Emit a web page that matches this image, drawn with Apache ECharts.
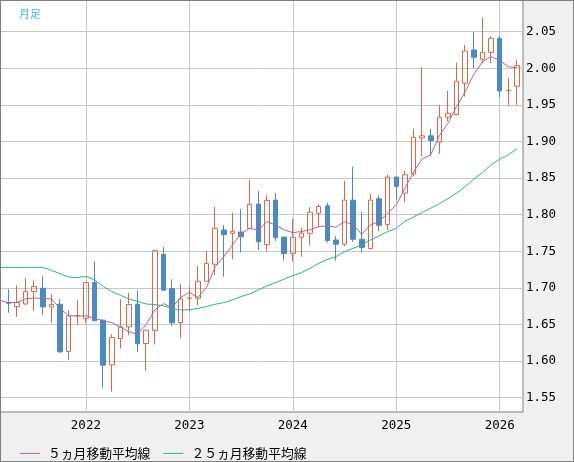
<!DOCTYPE html>
<html><head><meta charset="utf-8">
<script src="https://cdn.jsdelivr.net/npm/echarts@6/dist/echarts.min.js"></script>
<style>html,body{margin:0;padding:0;background:#f0f0f0}#c{width:574px;height:462px}</style>
</head><body><div id="c"></div>
<script>
// Monthly candles, Apr 2021 - Mar 2026
const months = [
 '2021-04','2021-05','2021-06','2021-07','2021-08','2021-09','2021-10','2021-11','2021-12',
 '2022-01','2022-02','2022-03','2022-04','2022-05','2022-06','2022-07','2022-08','2022-09','2022-10','2022-11','2022-12',
 '2023-01','2023-02','2023-03','2023-04','2023-05','2023-06','2023-07','2023-08','2023-09','2023-10','2023-11','2023-12',
 '2024-01','2024-02','2024-03','2024-04','2024-05','2024-06','2024-07','2024-08','2024-09','2024-10','2024-11','2024-12',
 '2025-01','2025-02','2025-03','2025-04','2025-05','2025-06','2025-07','2025-08','2025-09','2025-10','2025-11','2025-12',
 '2026-01','2026-02','2026-03'];
const open = [
 1.6800,1.6745,1.6782,1.6950,1.6995,1.6741,1.6777,1.6132,1.6618,
 1.6586,1.7073,1.6559,1.5950,1.6309,1.6468,1.6777,1.6241,1.6418,1.7455,1.6991,1.6527,
 1.6858,1.6859,1.7091,1.7323,1.7791,1.7745,1.7764,1.7814,1.8145,1.7591,1.8200,1.7695,
 1.7473,1.7692,1.7747,1.8021,1.8121,1.7655,1.7596,1.8199,1.7664,1.7537,1.8217,1.7865,
 1.8514,1.8295,1.8559,1.9050,1.9077,1.8991,1.9332,1.9368,1.9795,2.0250,2.0123,2.0218,
 2.0409,1.9693,1.9755];
const close = [
 1.6790,1.6800,1.6950,1.7018,1.6741,1.6773,1.6127,1.6618,1.6623,
 1.7073,1.6550,1.5945,1.6323,1.6468,1.6773,1.6236,1.6423,1.7509,1.6968,1.6523,1.6850,
 1.6862,1.7091,1.7336,1.7814,1.7727,1.7773,1.7700,1.8141,1.7632,1.8195,1.7686,1.7468,
 1.7692,1.7747,1.8034,1.8112,1.7646,1.7596,1.8199,1.7664,1.7550,1.8199,1.7856,1.8514,
 1.8386,1.8545,1.9059,1.9077,1.9014,1.9332,1.9386,1.9823,2.0236,2.0150,2.0218,2.0409,
 1.9691,1.9697,2.0036];
const low = [
 1.6660,1.6605,1.6764,1.6686,1.6632,1.6523,1.6114,1.6018,1.6495,
 1.6514,1.6550,1.5636,1.5582,1.6173,1.6355,1.6127,1.5868,1.6227,1.6968,1.6482,1.6318,
 1.6680,1.6759,1.7090,1.7177,1.7155,1.7391,1.7486,1.7814,1.7518,1.7505,1.7641,1.7373,
 1.7358,1.7427,1.7578,1.7829,1.7619,1.7372,1.7573,1.7628,1.7486,1.7527,1.7776,1.7792,
 1.8200,1.8170,1.8523,1.8800,1.8800,1.8830,1.9273,1.9359,1.9614,2.0000,2.0068,2.0068,
 1.9605,1.9495,1.9500];
const high = [
 1.6980,1.7036,1.7132,1.7100,1.7159,1.6914,1.6845,1.6695,1.6832,
 1.7080,1.7364,1.6570,1.6368,1.6845,1.6932,1.6968,1.6425,1.7523,1.7559,1.7118,1.7050,
 1.7020,1.7300,1.7505,1.8109,1.7859,1.8027,1.8077,1.8473,1.8323,1.8268,1.8295,1.7695,
 1.7943,1.7824,1.8103,1.8144,1.8162,1.7710,1.8463,1.8655,1.8039,1.8285,1.8263,1.8546,
 1.8514,1.8600,1.9172,2.0014,1.9170,1.9500,1.9691,2.0077,2.0318,2.0495,2.0691,2.0441,
 2.0441,1.9864,2.0114];
// Moving averages, Mar 2021 - Mar 2026
const maMonths = ['2021-03'].concat(months);
const ma5 = [
 1.683,1.680,1.680,1.685,1.6864,1.6855,1.685,1.672,1.662,1.6616,
 1.662,1.6585,1.655,1.6525,1.6465,1.640,1.6365,1.650,1.670,1.6786,1.673,1.687,
 1.694,1.687,1.701,1.729,1.7427,1.7586,1.7745,1.7814,1.7791,1.7905,1.7859,1.7791,
 1.7756,1.777,1.7792,1.7838,1.7847,1.7829,1.7906,1.7861,1.7733,1.7861,1.7906,1.8021,
 1.8135,1.836,1.858,1.876,1.882,1.908,1.925,1.948,1.968,1.992,2.009,2.016,
 2.011,2.002,2.001];
const ma25 = [
 1.728,1.728,1.728,1.728,1.728,1.728,1.724,1.7195,1.715,1.714,
 1.7159,1.711,1.702,1.695,1.690,1.685,1.6815,1.678,1.6773,1.6755,1.6718,1.670,
 1.670,1.672,1.6745,1.6777,1.680,1.6836,1.6882,1.6918,1.6973,1.7027,1.7073,1.712,
 1.717,1.7208,1.7267,1.7336,1.739,1.7427,1.7495,1.7541,1.7587,1.7655,1.771,1.7769,
 1.7815,1.791,1.797,1.803,1.809,1.815,1.822,1.8295,1.8386,1.8486,1.8577,1.8682,
 1.8759,1.8818,1.890];
const yearLabels = ['2022','2023','2024','2025','2026'];
const yTicks = [1.55,1.60,1.65,1.70,1.75,1.80,1.85,1.90,1.95,2.00,2.05];
const seriesNames = ['５ヵ月移動平均線','２５ヵ月移動平均線'];

const baseYear = 2021;
const mIdx = s => (parseInt(s.slice(0,4)) - baseYear) * 12 + parseInt(s.slice(5,7)) - 1;
const yearIdx = yearLabels.map(y => (parseInt(y) - baseYear) * 12);

const candleData = months.map((m,i) => [mIdx(m), open[i], close[i], low[i], high[i]]);
const ma5Data = maMonths.map((m,i) => [mIdx(m), ma5[i]]);
const ma25Data = maMonths.map((m,i) => [mIdx(m), ma25[i]]);

const UP = '#dc6848', DOWN = '#4b8bc4';
const MA5C = '#b5638f', MA25C = '#2fb47c';
const monoFont = 'DejaVu Sans Mono';
const lineIcon = 'path://M0,0L20,0L20,1L0,1Z';
const chart = echarts.init(document.getElementById('c'));
chart.setOption({
  animation: false,
  backgroundColor: '#f0f0f0',
  title: { text: '月足', left: 14, top: 3,
    textStyle: { fontSize: 11, fontWeight: 'normal', color: '#3cbde9', fontFamily: 'Noto Sans CJK JP' } },
  graphic: [{ type: 'rect', silent: true, z: 100,
    shape: { x: 0.5, y: 0.5, width: 573, height: 461 },
    style: { fill: null, stroke: '#808080', lineWidth: 1 } }],
  legend: {
    data: seriesNames.map(n => ({ name: n, icon: lineIcon })),
    left: 15, top: 442, itemWidth: 20, itemHeight: 14, itemGap: 13,
    textStyle: { fontFamily: 'Noto Sans CJK JP', fontSize: 12.8, color: '#000', padding: [0,0,0,3] }
  },
  grid: { left: 0, right: 51, top: 0, bottom: 50, show: true, backgroundColor: '#ffffff',
    borderColor: '#808080', borderWidth: 1 },
  xAxis: {
    type: 'value', min: 2.037, max: 62.70,
    axisLine: { show: false },
    axisTick: { show: false, customValues: yearIdx },
    axisLabel: { customValues: yearIdx, formatter: v => yearLabels[yearIdx.indexOf(v)],
      margin: 7, fontFamily: monoFont, fontSize: 12.5, color: '#000' },
    splitLine: { show: true, lineStyle: { color: '#c8c8c8', width: 1 } }
  },
  yAxis: {
    type: 'value', position: 'right', min: 1.5305, max: 2.0933,
    axisLine: { show: false },
    axisTick: { show: false, customValues: yTicks },
    axisLabel: { customValues: yTicks, formatter: v => v.toFixed(2),
      margin: 3, fontFamily: monoFont, fontSize: 12.5, color: '#000' },
    splitLine: { show: true, lineStyle: { color: '#c8c8c8', width: 1 } }
  },
  series: [
    { type: 'candlestick', data: candleData, encode: { x: 0, y: [1,2,3,4] }, barWidth: 5,
      itemStyle: { color: 'rgba(255,255,255,0)', color0: DOWN, borderColor: UP, borderColor0: DOWN,
        borderColorDoji: UP, borderWidth: 1 } },
    { type: 'line', name: seriesNames[0], data: ma5Data, symbol: 'none',
      lineStyle: { width: 1, color: MA5C }, itemStyle: { color: MA5C } },
    { type: 'line', name: seriesNames[1], data: ma25Data, symbol: 'none',
      lineStyle: { width: 1, color: MA25C }, itemStyle: { color: MA25C } }
  ]
});
</script></body></html>
